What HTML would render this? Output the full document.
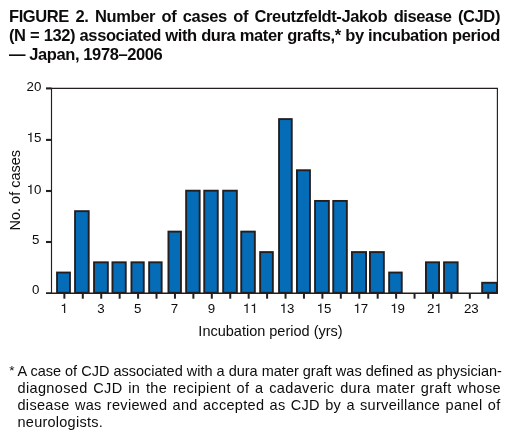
<!DOCTYPE html>
<html><head><meta charset="utf-8"><style>
html,body{margin:0;padding:0;background:#fff;width:516px;height:441px;overflow:hidden}
body{position:relative;-webkit-font-smoothing:antialiased;font-family:"Liberation Sans",sans-serif;color:#0d0b0c}
.g{position:absolute;left:0;top:0;width:516px;height:441px;will-change:transform}
.t{position:absolute;left:9px;width:491px;font-weight:bold;font-size:16.5px;line-height:20px;height:20px;letter-spacing:-0.4px;white-space:nowrap}
.j{text-align:justify;text-align-last:justify}
.f{position:absolute;left:17.5px;width:482px;font-size:14.5px;line-height:17px;height:17px;white-space:nowrap}
svg{position:absolute;left:0;top:0}
.tk{font-family:"Liberation Sans",sans-serif;font-size:13.3px;fill:#0d0b0c}
.at{font-family:"Liberation Sans",sans-serif;font-size:14.5px;fill:#0d0b0c}
</style></head><body><div class="g">
<div class="t j" style="top:5.98px">FIGURE 2. Number of cases of Creutzfeldt-Jakob disease (CJD)</div>
<div class="t j" style="top:24.98px">(N = 132) associated with dura mater grafts,* by incubation period</div>
<div class="t" style="top:43.98px">— Japan, 1978–2006</div>
<svg width="516" height="441" viewBox="0 0 516 441">
<rect x="57.05" y="272.54" width="12.90" height="20.26" fill="#056cb7" stroke="#231f20" stroke-width="1.9"/>
<rect x="75.05" y="211.16" width="13.65" height="81.64" fill="#056cb7" stroke="#231f20" stroke-width="1.9"/>
<rect x="94.05" y="262.31" width="13.80" height="30.49" fill="#056cb7" stroke="#231f20" stroke-width="1.9"/>
<rect x="112.45" y="262.31" width="13.30" height="30.49" fill="#056cb7" stroke="#231f20" stroke-width="1.9"/>
<rect x="131.45" y="262.31" width="12.30" height="30.49" fill="#056cb7" stroke="#231f20" stroke-width="1.9"/>
<rect x="149.15" y="262.31" width="12.50" height="30.49" fill="#056cb7" stroke="#231f20" stroke-width="1.9"/>
<rect x="168.45" y="231.62" width="12.50" height="61.18" fill="#056cb7" stroke="#231f20" stroke-width="1.9"/>
<rect x="186.15" y="190.70" width="13.50" height="102.10" fill="#056cb7" stroke="#231f20" stroke-width="1.9"/>
<rect x="204.25" y="190.70" width="13.50" height="102.10" fill="#056cb7" stroke="#231f20" stroke-width="1.9"/>
<rect x="223.15" y="190.70" width="13.70" height="102.10" fill="#056cb7" stroke="#231f20" stroke-width="1.9"/>
<rect x="241.25" y="231.62" width="13.60" height="61.18" fill="#056cb7" stroke="#231f20" stroke-width="1.9"/>
<rect x="260.15" y="252.08" width="12.70" height="40.72" fill="#056cb7" stroke="#231f20" stroke-width="1.9"/>
<rect x="279.05" y="119.09" width="12.70" height="173.71" fill="#056cb7" stroke="#231f20" stroke-width="1.9"/>
<rect x="296.95" y="170.24" width="13.00" height="122.56" fill="#056cb7" stroke="#231f20" stroke-width="1.9"/>
<rect x="315.05" y="200.93" width="13.80" height="91.87" fill="#056cb7" stroke="#231f20" stroke-width="1.9"/>
<rect x="333.25" y="200.93" width="13.60" height="91.87" fill="#056cb7" stroke="#231f20" stroke-width="1.9"/>
<rect x="351.95" y="252.08" width="14.10" height="40.72" fill="#056cb7" stroke="#231f20" stroke-width="1.9"/>
<rect x="369.95" y="252.08" width="13.90" height="40.72" fill="#056cb7" stroke="#231f20" stroke-width="1.9"/>
<rect x="389.15" y="272.54" width="12.60" height="20.26" fill="#056cb7" stroke="#231f20" stroke-width="1.9"/>
<rect x="425.95" y="262.31" width="13.10" height="30.49" fill="#056cb7" stroke="#231f20" stroke-width="1.9"/>
<rect x="444.05" y="262.31" width="13.60" height="30.49" fill="#056cb7" stroke="#231f20" stroke-width="1.9"/>
<rect x="482.15" y="282.77" width="14.80" height="10.03" fill="#056cb7" stroke="#231f20" stroke-width="1.9"/>
<path d="M51.5,293.2 V88.4 H497.4 V293.2" fill="none" stroke="#231f20" stroke-width="1.15"/>
<line x1="46" y1="293.2" x2="497.9" y2="293.2" stroke="#231f20" stroke-width="1.4"/>
<line x1="46" y1="293.20" x2="51.5" y2="293.20" stroke="#231f20" stroke-width="1.4"/>
<text x="32.00" y="294.2" class="tk">0</text>
<line x1="46" y1="242.00" x2="51.5" y2="242.00" stroke="#231f20" stroke-width="2.1"/>
<text x="32.00" y="244" class="tk">5</text>
<line x1="46" y1="191.00" x2="51.5" y2="191.00" stroke="#231f20" stroke-width="2.1"/>
<path d="M30.30,194.00 L31.57,194.00 L31.57,184.57 L30.66,184.57 L30.50,185.35 L29.80,185.95 L28.05,186.09 L28.05,187.08 L30.30,187.08 Z" fill="#231f20"/>
<text x="34.00" y="194" class="tk">0</text>
<line x1="46" y1="139.90" x2="51.5" y2="139.90" stroke="#231f20" stroke-width="2.1"/>
<path d="M30.30,142.00 L31.57,142.00 L31.57,132.57 L30.66,132.57 L30.50,133.35 L29.80,133.95 L28.05,134.09 L28.05,135.08 L30.30,135.08 Z" fill="#231f20"/>
<text x="34.00" y="142" class="tk">5</text>
<line x1="46" y1="88.40" x2="51.5" y2="88.40" stroke="#231f20" stroke-width="2.1"/>
<text x="26.61" y="90.8" class="tk">2</text>
<text x="34.00" y="90.8" class="tk">0</text>
<line x1="64.37" y1="293.2" x2="64.37" y2="298.7" stroke="#231f20" stroke-width="2"/>
<path d="M63.97,312.90 L65.23,312.90 L65.23,303.47 L64.33,303.47 L64.17,304.25 L63.46,304.85 L61.72,304.99 L61.72,305.98 L63.97,305.98 Z" fill="#231f20"/>
<line x1="82.80" y1="293.2" x2="82.80" y2="298.7" stroke="#231f20" stroke-width="2"/>
<line x1="101.23" y1="293.2" x2="101.23" y2="298.7" stroke="#231f20" stroke-width="2"/>
<text x="97.13" y="312.9" class="tk">3</text>
<line x1="119.66" y1="293.2" x2="119.66" y2="298.7" stroke="#231f20" stroke-width="2"/>
<line x1="138.09" y1="293.2" x2="138.09" y2="298.7" stroke="#231f20" stroke-width="2"/>
<text x="133.99" y="312.9" class="tk">5</text>
<line x1="156.52" y1="293.2" x2="156.52" y2="298.7" stroke="#231f20" stroke-width="2"/>
<line x1="174.95" y1="293.2" x2="174.95" y2="298.7" stroke="#231f20" stroke-width="2"/>
<text x="170.85" y="312.9" class="tk">7</text>
<line x1="193.38" y1="293.2" x2="193.38" y2="298.7" stroke="#231f20" stroke-width="2"/>
<line x1="211.81" y1="293.2" x2="211.81" y2="298.7" stroke="#231f20" stroke-width="2"/>
<text x="207.71" y="312.9" class="tk">9</text>
<line x1="230.24" y1="293.2" x2="230.24" y2="298.7" stroke="#231f20" stroke-width="2"/>
<line x1="248.67" y1="293.2" x2="248.67" y2="298.7" stroke="#231f20" stroke-width="2"/>
<path d="M246.47,312.90 L247.73,312.90 L247.73,303.47 L246.83,303.47 L246.67,304.25 L245.96,304.85 L244.22,304.99 L244.22,305.98 L246.47,305.98 Z" fill="#231f20"/>
<path d="M253.87,312.90 L255.13,312.90 L255.13,303.47 L254.23,303.47 L254.07,304.25 L253.36,304.85 L251.62,304.99 L251.62,305.98 L253.87,305.98 Z" fill="#231f20"/>
<line x1="267.10" y1="293.2" x2="267.10" y2="298.7" stroke="#231f20" stroke-width="2"/>
<line x1="285.53" y1="293.2" x2="285.53" y2="298.7" stroke="#231f20" stroke-width="2"/>
<path d="M283.33,312.90 L284.59,312.90 L284.59,303.47 L283.69,303.47 L283.53,304.25 L282.82,304.85 L281.08,304.99 L281.08,305.98 L283.33,305.98 Z" fill="#231f20"/>
<text x="287.03" y="312.9" class="tk">3</text>
<line x1="303.96" y1="293.2" x2="303.96" y2="298.7" stroke="#231f20" stroke-width="2"/>
<line x1="322.39" y1="293.2" x2="322.39" y2="298.7" stroke="#231f20" stroke-width="2"/>
<path d="M320.19,312.90 L321.45,312.90 L321.45,303.47 L320.55,303.47 L320.39,304.25 L319.68,304.85 L317.94,304.99 L317.94,305.98 L320.19,305.98 Z" fill="#231f20"/>
<text x="323.89" y="312.9" class="tk">5</text>
<line x1="340.82" y1="293.2" x2="340.82" y2="298.7" stroke="#231f20" stroke-width="2"/>
<line x1="359.25" y1="293.2" x2="359.25" y2="298.7" stroke="#231f20" stroke-width="2"/>
<path d="M357.05,312.90 L358.31,312.90 L358.31,303.47 L357.41,303.47 L357.25,304.25 L356.54,304.85 L354.80,304.99 L354.80,305.98 L357.05,305.98 Z" fill="#231f20"/>
<text x="360.75" y="312.9" class="tk">7</text>
<line x1="377.68" y1="293.2" x2="377.68" y2="298.7" stroke="#231f20" stroke-width="2"/>
<line x1="396.11" y1="293.2" x2="396.11" y2="298.7" stroke="#231f20" stroke-width="2"/>
<path d="M393.91,312.90 L395.17,312.90 L395.17,303.47 L394.27,303.47 L394.11,304.25 L393.40,304.85 L391.66,304.99 L391.66,305.98 L393.91,305.98 Z" fill="#231f20"/>
<text x="397.61" y="312.9" class="tk">9</text>
<line x1="414.54" y1="293.2" x2="414.54" y2="298.7" stroke="#231f20" stroke-width="2"/>
<line x1="432.97" y1="293.2" x2="432.97" y2="298.7" stroke="#231f20" stroke-width="2"/>
<text x="427.07" y="312.9" class="tk">2</text>
<path d="M438.17,312.90 L439.43,312.90 L439.43,303.47 L438.53,303.47 L438.37,304.25 L437.66,304.85 L435.92,304.99 L435.92,305.98 L438.17,305.98 Z" fill="#231f20"/>
<line x1="451.40" y1="293.2" x2="451.40" y2="298.7" stroke="#231f20" stroke-width="2"/>
<line x1="469.83" y1="293.2" x2="469.83" y2="298.7" stroke="#231f20" stroke-width="2"/>
<text x="463.93" y="312.9" class="tk">2</text>
<text x="471.33" y="312.9" class="tk">3</text>
<line x1="488.26" y1="293.2" x2="488.26" y2="298.7" stroke="#231f20" stroke-width="2"/>
<text x="270.5" y="335.8" text-anchor="middle" class="at">Incubation period (yrs)</text>
<text transform="translate(20.4,190.2) rotate(-90)" text-anchor="middle" class="at">No. of cases</text>
</svg>
<div class="f" style="left:9.3px;width:20px;top:361.58px;font-size:13.5px">*</div>
<div class="f j" style="top:362.78px;letter-spacing:0px">A case of CJD associated with a dura mater graft was defined as physician-</div>
<div class="f j" style="top:379.88px;letter-spacing:0.35px;width:483.5px">diagnosed CJD in the recipient of a cadaveric dura mater graft whose</div>
<div class="f j" style="top:396.98px;letter-spacing:0.3px;width:483px">disease was reviewed and accepted as CJD by a surveillance panel of</div>
<div class="f" style="top:414.08px;letter-spacing:0.25px">neurologists.</div>
</div></body></html>
